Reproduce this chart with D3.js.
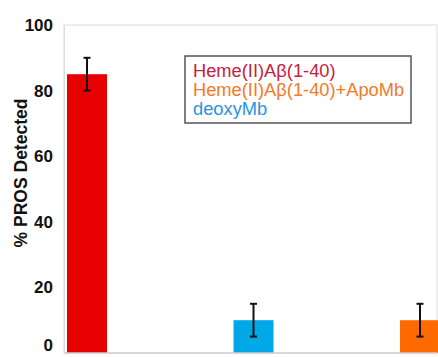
<!DOCTYPE html>
<html><head><meta charset="utf-8">
<script src="https://cdn.jsdelivr.net/npm/d3@7"></script>
<style>body{margin:0;background:#fff}svg{display:block}</style>
</head><body>
<script>
const categories = ["Heme(II)Aβ(1-40)", "deoxyMb", "Heme(II)Aβ(1-40)+ApoMb"];
const values = [85, 10, 10];
const errors = [5, 5, 5];
const barColors = ["#e60000", "#00a8e8", "#ff6a00"];
const legendLabels = ["Heme(II)Aβ(1-40)", "Heme(II)Aβ(1-40)+ApoMb", "deoxyMb"];
const legendColors = ["#c8203c", "#f47a28", "#2a94e0"];
const yTicks = [0, 20, 40, 60, 80, 100];

(function () {
const W = 438, H = 357;
const svg = d3.select("body").append("svg").attr("width", W).attr("height", H);
const font = "Liberation Sans, Arial, sans-serif";

const mL = 64, mR = 437, mT = 25, mB = 353;
const y = d3.scaleLinear().domain([0, 100]).range([mB, mT]);
const x = d3.scalePoint().domain(categories).range([87, 420]);
const bw = 40;

// frame
svg.append("rect").attr("x", mL).attr("y", mT).attr("width", mR - mL).attr("height", mB - mT)
  .attr("fill", "none").attr("stroke", "#dcdcdc").attr("stroke-width", 1);

// y axis
const yAxis = d3.axisLeft(y).tickValues(yTicks).tickSize(0).tickPadding(11);
const gy = svg.append("g").attr("transform", `translate(${mL},0)`).call(yAxis);
gy.select(".domain").attr("stroke", "#dcdcdc");
gy.selectAll("text").attr("font-family", font).attr("font-size", 17).attr("font-weight", "bold").attr("fill", "#111")
  .attr("dy", d => d === 0 ? "-0.12em" : "0.32em");

// bars
svg.append("g").selectAll("rect").data(categories).join("rect")
  .attr("x", d => x(d) - bw / 2).attr("width", bw)
  .attr("y", (d, i) => y(values[i])).attr("height", (d, i) => y(0) - y(values[i]))
  .attr("fill", (d, i) => barColors[i]);

// bottom line
svg.append("line").attr("x1", mL).attr("x2", mR).attr("y1", mB).attr("y2", mB)
  .attr("stroke", "#d0d0d0").attr("stroke-width", 1.5);

// error bars
const eg = svg.append("g").attr("stroke", "#111").attr("stroke-width", 2);
categories.forEach((c, i) => {
  const cx = x(c);
  eg.append("line").attr("x1", cx).attr("x2", cx).attr("y1", y(values[i] + errors[i])).attr("y2", y(values[i] - errors[i]));
  [values[i] + errors[i], values[i] - errors[i]].forEach(v => {
    eg.append("line").attr("x1", cx - 3.5).attr("x2", cx + 3.5).attr("y1", y(v)).attr("y2", y(v));
  });
});

// y title
svg.append("text").attr("transform", `translate(27,173) rotate(-90)`)
  .attr("text-anchor", "middle").attr("font-family", font).attr("font-size", 17.5).attr("font-weight", "bold")
  .attr("fill", "#111").text("% PROS Detected");

// legend
const lg = svg.append("g");
lg.append("rect").attr("x", 185).attr("y", 56).attr("width", 226).attr("height", 67)
  .attr("fill", "#fff").attr("stroke", "#555").attr("stroke-width", 1.5);
legendLabels.forEach((t, i) => {
  lg.append("text").attr("x", 193).attr("y", 77 + i * 19)
    .attr("font-family", font).attr("font-size", 18.3).attr("fill", legendColors[i]).text(t);
});
})();
</script>
</body></html>
